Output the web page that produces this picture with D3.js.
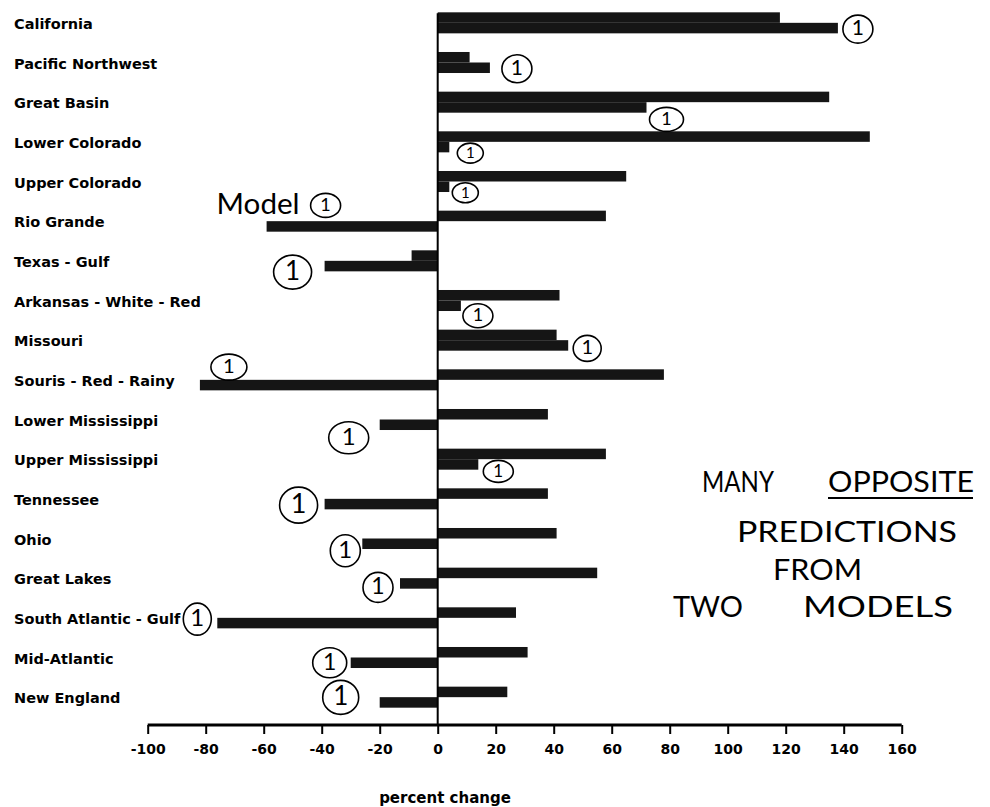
<!DOCTYPE html>
<html>
<head>
<meta charset="utf-8">
<script src="https://cdn.jsdelivr.net/npm/d3@7/dist/d3.min.js"></script>
<style>
  html, body { margin: 0; padding: 0; background: #fff; }
  svg { display: block; }
  .lbl { font-family: "DejaVu Sans", sans-serif; font-weight: bold; font-size: 14.5px; fill: #000; }
  .tick text { font-family: "DejaVu Sans", sans-serif; font-weight: bold; font-size: 14px; fill: #000; }
  .hand { font-family: Lato, "Noto Sans", sans-serif; font-weight: 400; fill: #000; }
</style>
</head>
<body>
<svg id="chart" width="990" height="807"></svg>
<script>
// ---- data ----
const regions = ["California", "Pacific Northwest", "Great Basin", "Lower Colorado", "Upper Colorado",
  "Rio Grande", "Texas - Gulf", "Arkansas - White - Red", "Missouri", "Souris - Red - Rainy",
  "Lower Mississippi", "Upper Mississippi", "Tennessee", "Ohio", "Great Lakes",
  "South Atlantic - Gulf", "Mid-Atlantic", "New England"];
// upper (unmarked) bars
const model2 = [118, 11, 135, 149, 65, 58, -9, 42, 41, 78, 38, 58, 38, 41, 55, 27, 31, 24];
// lower bars, hand-marked "Model 1"
const model1 = [138, 18, 72, 4, 4, -59, -39, 8, 45, -82, -20, 14, -39, -26, -13, -76, -30, -20];
const tickValues = [-100, -80, -60, -40, -20, 0, 20, 40, 60, 80, 100, 120, 140, 160];
const axisTitle = "percent change";
const noteLines = ["MANY", "OPPOSITE", "PREDICTIONS", "FROM", "TWO", "MODELS"];

// ---- layout (annotation offsets relative to the Model 1 bar end) ----
const circleOffsets = [
  [20, 1, 15, 14], [27, 1, 15, 14], [20, 12, 17, 12], [21, 6, 13, 10], [16, 6, 13, 10],
  [59, -21, 15, 12], [-32, 6, 19, 17], [17, 10, 15, 12], [19, 3, 14, 13], [29, -18, 18, 13],
  [-31, 13, 20, 16], [20, 7, 15, 11], [-26, 1, 19, 18], [-17, 7, 15, 16], [-22, 4, 15, 15],
  [-20, -4, 14, 16], [-21, 0, 17, 15], [-39, -5, 18, 17]
];

const svg = d3.select("#chart");
const x = d3.scaleLinear().domain([-100, 160]).range([147.7, 901.7]);
const y = d3.scaleBand().domain(regions).range([3, 717]).paddingInner(0.47).paddingOuter(0.235);
const ySub = d3.scaleBand().domain(["m2", "m1"]).range([0, y.bandwidth()]);

const rows = regions.map((r, i) => ({ region: r, m2: model2[i], m1: model1[i], i }));

// bars
const g = svg.append("g");
rows.forEach(d => {
  [["m2", d.m2], ["m1", d.m1]].forEach(([k, v]) => {
    g.append("rect")
      .attr("x", x(Math.min(0, v)))
      .attr("y", y(d.region) + ySub(k))
      .attr("width", Math.abs(x(v) - x(0)))
      .attr("height", ySub.bandwidth())
      .attr("fill", "#151515");
  });
});

// zero line
svg.append("line")
  .attr("x1", x(0)).attr("x2", x(0))
  .attr("y1", y(regions[0]) + 1).attr("y2", 725)
  .attr("stroke", "#000").attr("stroke-width", 2);

// category labels
svg.selectAll("text.cat").data(rows).enter().append("text")
  .attr("class", "lbl cat")
  .attr("x", 14)
  .attr("y", d => y(d.region) + y.bandwidth() / 2 + 2)
  .attr("dominant-baseline", "middle")
  .text(d => d.region);

// x axis
const axis = d3.axisBottom(x).tickValues(tickValues).tickSize(9).tickPadding(10).tickFormat(d => String(d));
const ax = svg.append("g").attr("transform", "translate(0,725)").call(axis);
ax.attr("font-family", null).attr("font-size", null);
ax.select(".domain").attr("stroke", "#000").attr("stroke-width", 3).attr("d", `M${x(-100)},0H${x(160)}`);
ax.selectAll(".tick line").attr("stroke", "#000").attr("stroke-width", 2);

svg.append("text").attr("class", "lbl")
  .attr("x", 445).attr("y", 798)
  .attr("text-anchor", "middle").attr("dominant-baseline", "middle")
  .style("font-size", "15px")
  .text(axisTitle);

// hand-drawn circled "1" marks
rows.forEach((d, i) => {
  const [dx, dy, rx, ry] = circleOffsets[i];
  const cx = x(d.m1) + dx;
  const cy = y(d.region) + ySub("m1") + ySub.bandwidth() / 2 + dy;
  svg.append("ellipse").attr("cx", cx).attr("cy", cy).attr("rx", rx).attr("ry", ry)
    .attr("fill", "none").attr("stroke", "#000").attr("stroke-width", 1.6);
  svg.append("text").attr("class", "hand")
    .attr("x", cx).attr("y", cy + 1)
    .attr("text-anchor", "middle").attr("dominant-baseline", "middle")
    .style("font-size", Math.round(ry * 1.5) + "px")
    .text("1");
  if (d.region === "Rio Grande") {
    svg.append("text").attr("class", "hand")
      .attr("x", cx - 109).attr("y", cy + 9)
      .attr("textLength", 83).attr("lengthAdjust", "spacingAndGlyphs")
      .style("font-size", "29px")
      .text("Model");
  }
});

// hand-written note
const note = svg.append("g").attr("class", "note");
const noteSpec = [
  [noteLines[0], 702, 492, 72],
  [noteLines[1], 828, 492, 146],
  [noteLines[2], 737, 542, 220],
  [noteLines[3], 773, 580, 89],
  [noteLines[4], 673, 617, 70],
  [noteLines[5], 803, 617, 150]
];
noteSpec.forEach(([t, tx, ty, w]) => {
  note.append("text").attr("class", "hand")
    .attr("x", tx).attr("y", ty)
    .attr("textLength", w).attr("lengthAdjust", "spacingAndGlyphs")
    .style("font-size", "29px")
    .text(t);
});
note.append("line").attr("x1", 828).attr("x2", 973).attr("y1", 498).attr("y2", 498)
  .attr("stroke", "#000").attr("stroke-width", 2);
</script>
</body>
</html>
